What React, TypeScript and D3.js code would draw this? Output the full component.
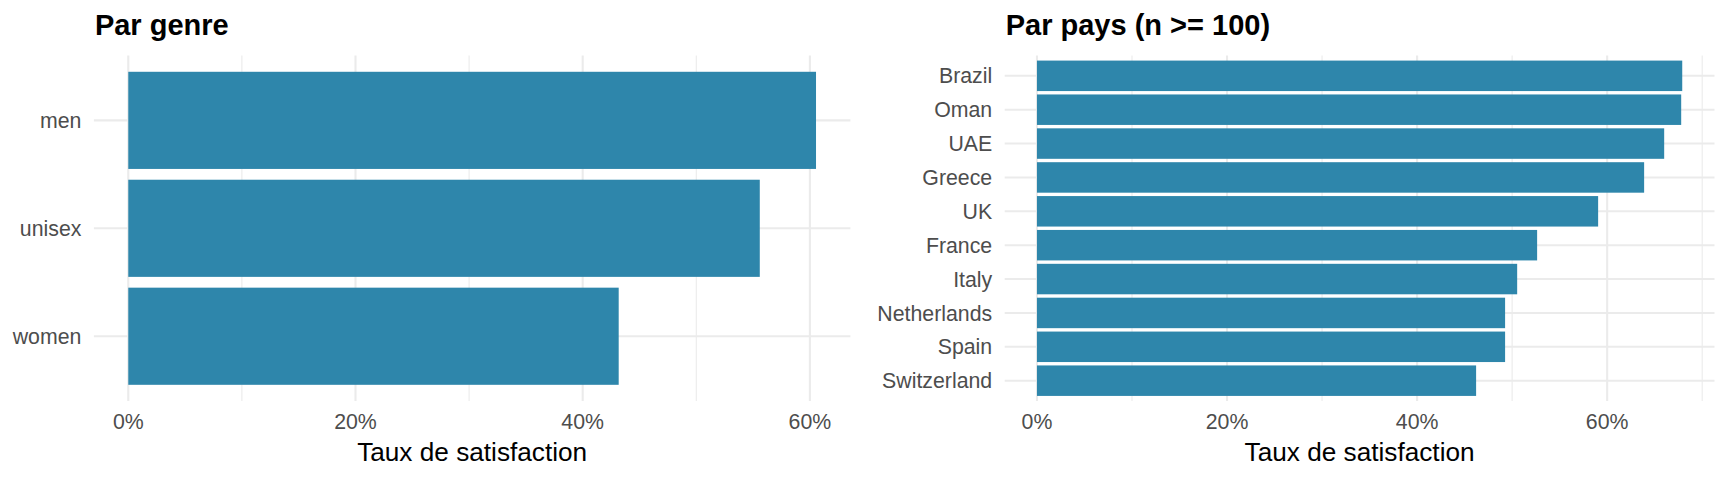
import React from "react";
import * as d3 from "d3";

// ---- Data ----
const genreCategories = ["men", "unisex", "women"];
const genreValues = [0.6054, 0.5559, 0.4317];

const paysCategories = [
  "Brazil",
  "Oman",
  "UAE",
  "Greece",
  "UK",
  "France",
  "Italy",
  "Netherlands",
  "Spain",
  "Switzerland",
];
const paysValues = [0.679, 0.6779, 0.66, 0.6389, 0.5905, 0.5263, 0.5053, 0.4926, 0.4926, 0.4621];

const xTicks = [0, 0.2, 0.4, 0.6];
const xMinorTicks = [0.1, 0.3, 0.5, 0.7];
const xTickLabels = ["0%", "20%", "40%", "60%"];

const titles = ["Par genre", "Par pays (n >= 100)"];
const xAxisTitle = "Taux de satisfaction";

// ---- Style ----
const W = 1728;
const H = 480;
const BAR = "#2E86AB";
const GRID = "#EBEBEB";
const FONT = "'Liberation Sans', Arial, Helvetica, sans-serif";

type PanelProps = {
  title: string;
  categories: string[];
  values: number[];
  left: number;
  right: number;
  top: number;
  bottom: number;
};

function Panel({ title, categories, values, left, right, top, bottom }: PanelProps) {
  const max = d3.max(values) as number;
  const x = d3
    .scaleLinear()
    .domain([-0.05 * max, max * 1.05])
    .range([left, right]);
  const y = d3
    .scaleBand<string>()
    .domain(categories)
    .range([top, bottom])
    .paddingInner(0.1)
    .paddingOuter(0.15);
  const [d0, d1] = x.domain();
  const minors = xMinorTicks.filter((t) => t >= d0 && t <= d1);
  const majors = xTicks.filter((t) => t >= d0 && t <= d1);
  return (
    <g>
      {/* minor vertical grid */}
      {minors.map((t) => (
        <line key={"mi" + t} x1={x(t)} x2={x(t)} y1={top} y2={bottom} stroke={GRID} strokeWidth={1.1} />
      ))}
      {/* major vertical grid */}
      {majors.map((t) => (
        <line key={"ma" + t} x1={x(t)} x2={x(t)} y1={top} y2={bottom} stroke={GRID} strokeWidth={2.1} />
      ))}
      {/* horizontal grid */}
      {categories.map((c) => {
        const cy = (y(c) as number) + y.bandwidth() / 2;
        return <line key={"h" + c} x1={left} x2={right} y1={cy} y2={cy} stroke={GRID} strokeWidth={2.1} />;
      })}
      {/* bars */}
      {categories.map((c, i) => (
        <rect
          key={"b" + c}
          x={x(0)}
          y={y(c) as number}
          width={x(values[i]) - x(0)}
          height={y.bandwidth()}
          fill={BAR}
        />
      ))}
      {/* y tick labels */}
      {categories.map((c) => {
        const cy = (y(c) as number) + y.bandwidth() / 2;
        return (
          <text
            key={"yl" + c}
            x={left - 12.5}
            y={cy}
            dy="0.36em"
            textAnchor="end"
            fontSize={21.3}
            fill="#4D4D4D"
            fontFamily={FONT}
          >
            {c}
          </text>
        );
      })}
      {/* x tick labels */}
      {majors.map((t) => (
        <text
          key={"xl" + t}
          x={x(t)}
          y={429.3}
          textAnchor="middle"
          fontSize={21.3}
          fill="#4D4D4D"
          fontFamily={FONT}
        >
          {xTickLabels[xTicks.indexOf(t)]}
        </text>
      ))}
      {/* axis title */}
      <text
        x={(left + right) / 2}
        y={460.7}
        textAnchor="middle"
        fontSize={26.2}
        fill="#000"
        fontFamily={FONT}
      >
        {xAxisTitle}
      </text>
      {/* panel title */}
      <text x={left + 1} y={35} fontSize={29} fontWeight="bold" fill="#000" fontFamily={FONT}>
        {title}
      </text>
    </g>
  );
}

export default function App() {
  return (
    <svg
      width={W}
      height={H}
      viewBox={`0 0 ${W} ${H}`}
      style={{ position: "absolute", left: 0, top: 0, background: "#fff" }}
    >
      <rect x={0} y={0} width={W} height={H} fill="#fff" />
      <Panel
        title={titles[0]}
        categories={genreCategories}
        values={genreValues}
        left={93.9}
        right={850.4}
        top={55.6}
        bottom={401}
      />
      <Panel
        title={titles[1]}
        categories={paysCategories}
        values={paysValues}
        left={1004.7}
        right={1714.5}
        top={55.5}
        bottom={401}
      />
    </svg>
  );
}
